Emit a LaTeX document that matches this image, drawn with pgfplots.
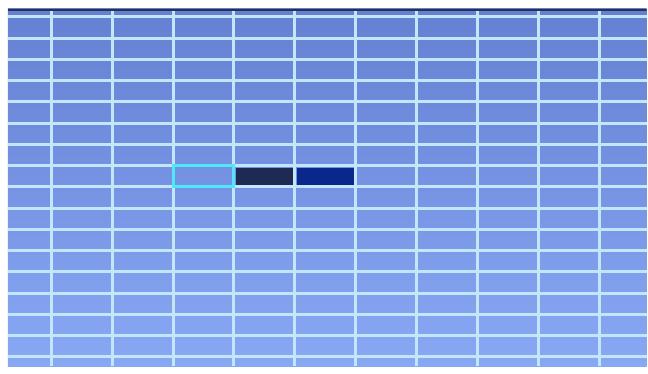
\documentclass[border=0pt]{standalone}
\usepackage{pgfplots}
\pgfplotsset{compat=1.18}
\definecolor{bgtop}{RGB}{100,128,210}
\definecolor{bgbot}{RGB}{136,168,244}
\definecolor{gridc}{RGB}{196,230,250}
\definecolor{cellcyan}{RGB}{80,232,248}
\definecolor{cellnavy}{RGB}{30,42,84}
\definecolor{cellblue}{RGB}{10,40,140}
\definecolor{topedge}{RGB}{40,50,75}
\begin{document}
\begin{tikzpicture}
\begin{axis}[
  at={(0,0)}, anchor=south west,
  scale only axis, width=640pt, height=358pt,
  xmin=8, xmax=648, ymin=9, ymax=367, y dir=reverse,
  axis background/.style={shade, top color=bgtop, bottom color=bgbot},
  axis line style={draw=none},
  xtick={51.5,112.5,173.5,234.5,295.5,356.5,417.5,478.5,539.5,600.5},
  ytick={17,38.3,59.6,80.9,102.2,123.5,144.8,166.1,187.4,208.7,230,251.3,272.6,293.9,315.2,336.5,357.8},
  xticklabels={}, yticklabels={},
  major tick length=0pt,
  grid=major,
  major grid style={draw=gridc, line width=3pt},
  clip=true,
]
% top dark edge of the screen
\addplot[draw=topedge, line width=2pt] coordinates {(8,10) (648,10)};
% highlighted cells
\addplot[fill=cellnavy, draw=none] coordinates {(236.5,168) (293.5,168) (293.5,185.5) (236.5,185.5)} -- cycle;
\addplot[fill=cellblue, draw=none] coordinates {(297.5,168) (354.5,168) (354.5,185.5) (297.5,185.5)} -- cycle;
\addplot[draw=cellcyan, line width=3pt] coordinates {(173.5,166.1) (234.5,166.1) (234.5,187.4) (173.5,187.4)} -- cycle;
\end{axis}
\path[use as bounding box] (-8pt,0pt) rectangle (640pt,367pt);
\end{tikzpicture}
\end{document}
